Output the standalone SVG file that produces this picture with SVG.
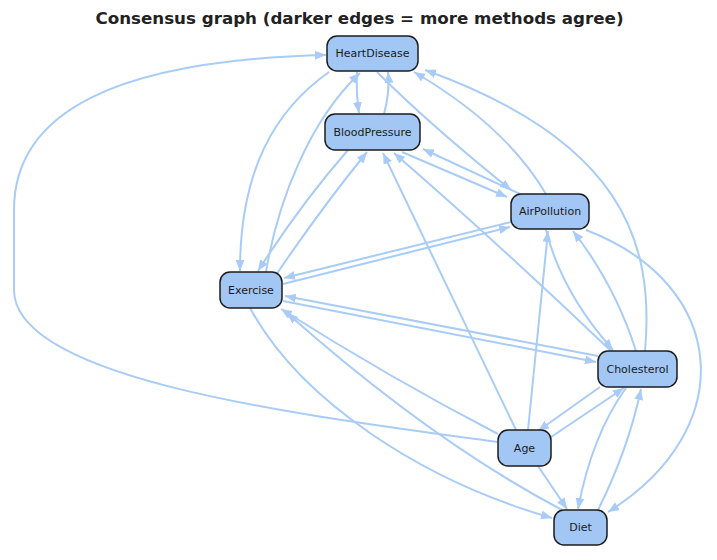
<svg xmlns="http://www.w3.org/2000/svg" width="717" height="560" viewBox="0 0 717 560">
<defs>
<marker id="ah" markerUnits="userSpaceOnUse" markerWidth="12" markerHeight="10" refX="11" refY="4.5" orient="auto">
<path d="M0,0 L11,4.5 L0,9 z" fill="#a9ccf6"/>
</marker>
<style>
.e{fill:none;stroke:#a9ccf6;stroke-width:2;marker-end:url(#ah)}
.n rect{fill:#a3c7f4;stroke:#1c1c1c;stroke-width:1.5}
.n text{font-family:"DejaVu Sans","Liberation Sans",sans-serif;font-size:11px;fill:#1a1a1a;text-anchor:middle;dominant-baseline:central}
.t{font-family:"DejaVu Sans","Liberation Sans",sans-serif;font-weight:bold;font-size:16.7px;fill:#222;text-anchor:middle}
</style>
</defs>
<rect width="717" height="560" fill="#fff"/>
<text class="t" x="359.5" y="24">Consensus graph (darker edges = more methods agree)</text>
<g id="edges">
<path class="e" d="M497,442 C300,415 14,380 14,290 L14,210 C14,110 120,60 326,55"/>
<path class="e" d="M357,72 Q356,93 359,113"/>
<path class="e" d="M384,114 Q390,93 388,72"/>
<path class="e" d="M329,72 C275,110 240,170 240,271"/>
<path class="e" d="M266,272 C278,200 310,120 360,73"/>
<path class="e" d="M348,150 Q300,205 258,271"/>
<path class="e" d="M276,275 Q320,210 367,152"/>
<path class="e" d="M377,72 Q430,125 511,190"/>
<path class="e" d="M546,194 Q505,125 414,72"/>
<path class="e" d="M645,351 C655,240 620,140 425,70"/>
<path class="e" d="M402,152 L507,197"/>
<path class="e" d="M520,194 L423,149"/>
<path class="e" d="M511,222 L284,278"/>
<path class="e" d="M283,284 L510,227"/>
<path class="e" d="M611,351 Q500,245 394,153"/>
<path class="e" d="M516,430 L383,153"/>
<path class="e" d="M528,430 L548,231"/>
<path class="e" d="M546,230 Q562,293 613,350"/>
<path class="e" d="M636,351 Q615,285 573,231"/>
<path class="e" d="M586,230 C730,285 740,430 608,512"/>
<path class="e" d="M598,356 L285,296"/>
<path class="e" d="M283,301 L596,362"/>
<path class="e" d="M600,387 L538,431"/>
<path class="e" d="M551,437 L624,388"/>
<path class="e" d="M626,388 Q592,435 578,509"/>
<path class="e" d="M598,510 Q628,450 641,389"/>
<path class="e" d="M538,466 L567,509"/>
<path class="e" d="M250,308 C300,400 420,480 552,518"/>
<path class="e" d="M562,510 Q430,440 287,313"/>
<path class="e" d="M498,434 Q390,378 281,309"/>
</g>
<g id="HeartDisease" class="n"><rect x="327" y="36" width="91" height="35" rx="10"/><text x="372.5" y="53.5">HeartDisease</text></g>
<g id="BloodPressure" class="n"><rect x="325" y="114" width="95" height="36" rx="10"/><text x="372.5" y="132">BloodPressure</text></g>
<g id="AirPollution" class="n"><rect x="511" y="194" width="78" height="35" rx="10"/><text x="550" y="211.5">AirPollution</text></g>
<g id="Exercise" class="n"><rect x="220" y="272" width="62" height="36" rx="10"/><text x="251" y="290">Exercise</text></g>
<g id="Cholesterol" class="n"><rect x="598" y="351" width="79" height="36" rx="10"/><text x="637.5" y="369">Cholesterol</text></g>
<g id="Age" class="n"><rect x="498" y="430" width="53" height="36" rx="10"/><text x="524.5" y="448">Age</text></g>
<g id="Diet" class="n"><rect x="554" y="510" width="53" height="35" rx="10"/><text x="580.5" y="527.5">Diet</text></g>
</svg>
